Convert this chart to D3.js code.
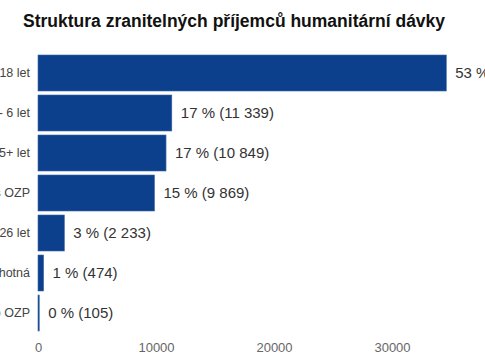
<!DOCTYPE html>
<html>
<head>
<meta charset="utf-8">
<script src="https://cdn.jsdelivr.net/npm/d3@7"></script>
<style>
  html, body { margin: 0; padding: 0; background: #fff; }
  svg { display: block; font-family: "Liberation Sans", Arial, sans-serif; }
</style>
</head>
<body>
<svg id="chart" width="485" height="360"></svg>
<script>
const title = "Struktura zranitelných příjemců humanitární dávky";
const categories = ["Děti do 18 let", "Děti 0 - 6 let", "Senioři 65+ let", "Osoby s OZP", "Studenti do 26 let", "Těhotná", "Pečující o OZP"];
const values = [34600, 11339, 10849, 9869, 2233, 474, 105];
const percents = ["53 %", "17 %", "17 %", "15 %", "3 %", "1 %", "0 %"];
const valueLabels = ["34 612", "11 339", "10 849", "9 869", "2 233", "474", "105"];
const tickValues = [0, 10000, 20000, 30000];

const svg = d3.select("#chart");

svg.append("text")
  .attr("x", 23).attr("y", 27)
  .attr("font-size", 17.5).attr("font-weight", "bold").attr("fill", "#111")
  .text(title);

const x = d3.scaleLinear().domain([0, 30000]).range([38, 392]);
const y = d3.scaleBand().domain(categories).range([53, 333]).paddingInner(0.1).paddingOuter(0.05);

const rows = svg.append("g").selectAll("g").data(categories).join("g");

rows.append("rect")
  .attr("x", x(0))
  .attr("y", d => y(d))
  .attr("width", (d, i) => Math.max(0, x(values[i]) - x(0)))
  .attr("height", y.bandwidth())
  .attr("fill", "#0d408c")
  .attr("stroke", "#3d67a6").attr("stroke-width", 0.6);

rows.append("text")
  .attr("x", 30)
  .attr("y", d => y(d) + y.bandwidth() / 2)
  .attr("dy", "0.35em")
  .attr("text-anchor", "end")
  .attr("font-size", 12.5).attr("fill", "#444")
  .text(d => d);

rows.append("text")
  .attr("x", (d, i) => x(values[i]) + 9)
  .attr("y", d => y(d) + y.bandwidth() / 2)
  .attr("dy", "0.35em")
  .attr("font-size", 15).attr("fill", "#333")
  .text((d, i) => `${percents[i]} (${valueLabels[i]})`);

const axis = d3.axisBottom(x).tickValues(tickValues).tickFormat(d3.format("d")).tickSize(0).tickPadding(0);
const ag = svg.append("g").attr("transform", "translate(0,343)").call(axis);
ag.select(".domain").remove();
ag.selectAll("text").attr("font-size", 13).attr("fill", "#666")
  .attr("font-family", "Liberation Sans, Arial, sans-serif");
</script>
</body>
</html>
